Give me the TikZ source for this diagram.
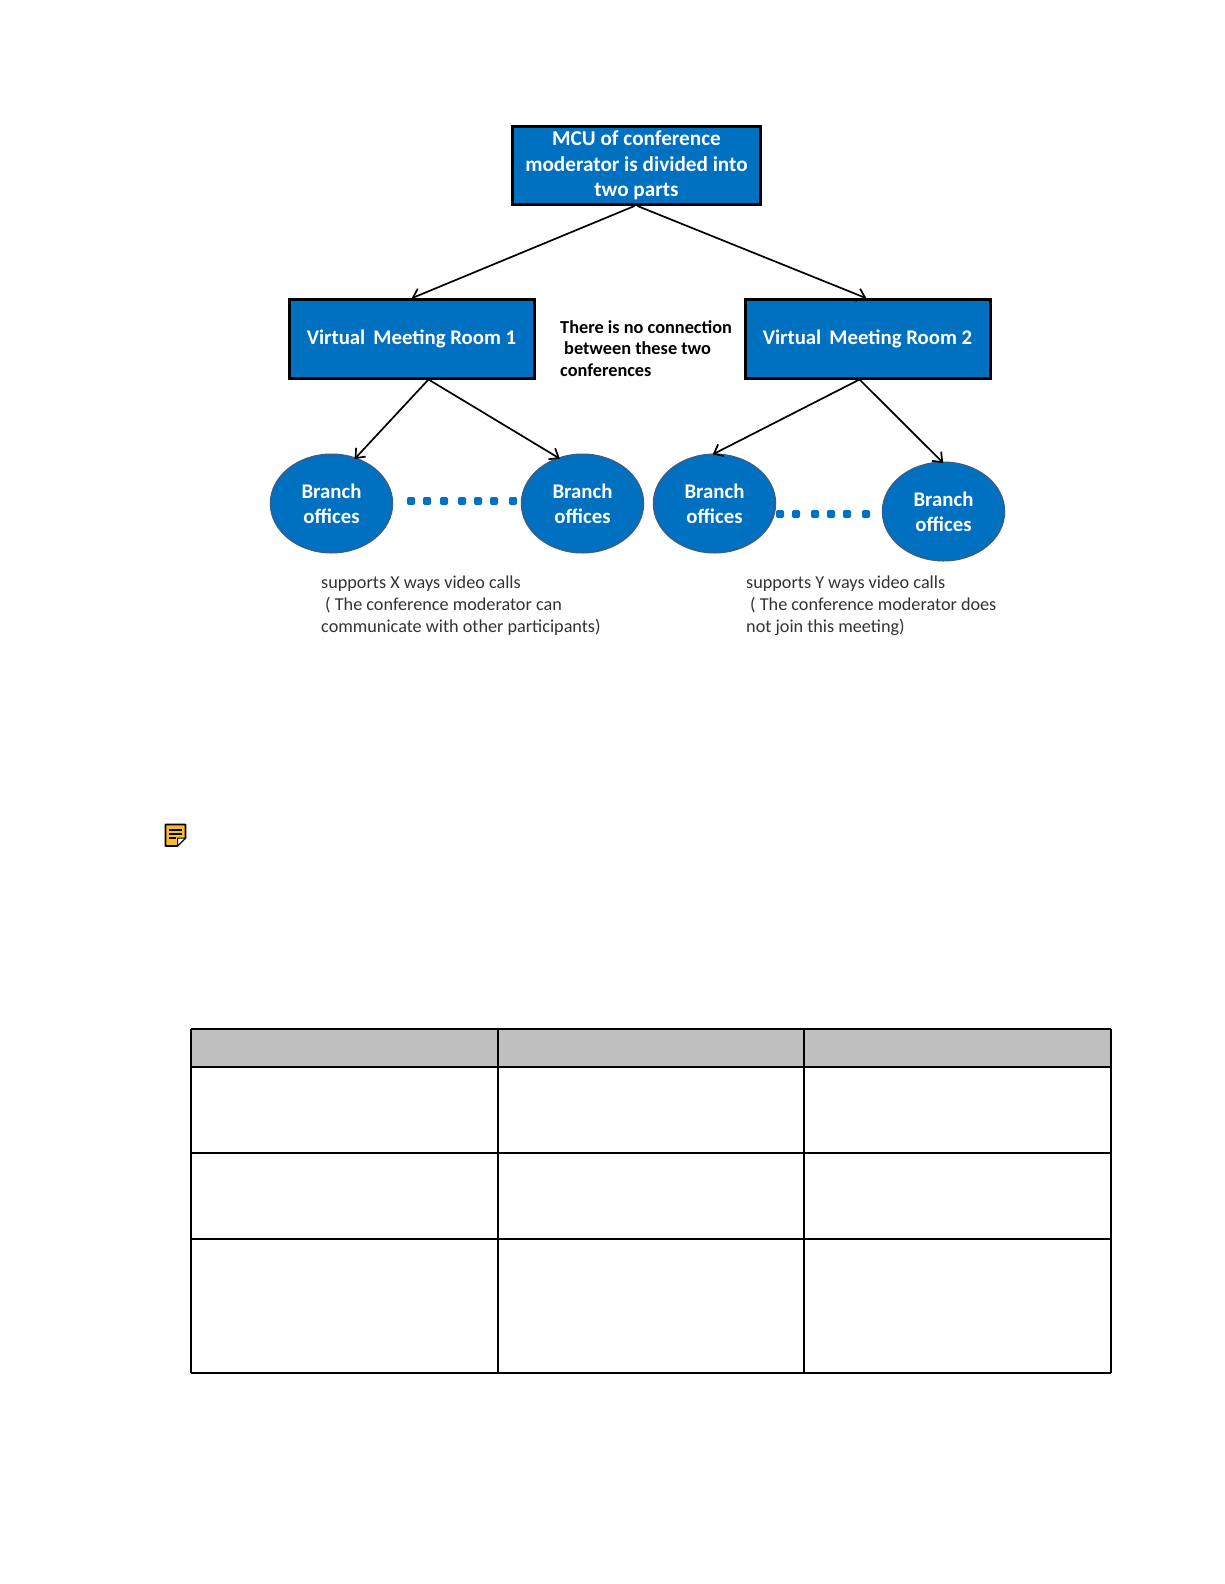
\documentclass[tikz,border=0pt]{standalone}
\usepackage{fontspec}
\setmainfont{Carlito}
\usepackage{tikz}
\usetikzlibrary{arrows.meta,positioning,shapes.geometric}
\definecolor{roomblue}{RGB}{0,112,192}
\definecolor{ovaledge}{RGB}{52,94,140}
\definecolor{notetext}{RGB}{50,50,50}
\definecolor{headgray}{RGB}{191,191,191}
\definecolor{noteyellow}{RGB}{251,188,42}
\tikzset{
  roombox/.style={draw=black, line width=3pt, fill=roomblue, text=white, align=center, minimum height=79pt, minimum width=245pt, font=\fontsize{20.8}{25.3}\selectfont\bfseries},
  branch/.style={ellipse, draw=ovaledge, line width=1.5pt, fill=roomblue, text=white, align=center, minimum height=98.5pt, minimum width=122pt, inner sep=0pt, font=\fontsize{20.8}{25}\selectfont\bfseries},
  remark/.style={anchor=north west, inner sep=0pt, align=left, text=notetext, font=\fontsize{18.2}{21.6}\selectfont},
  flow/.style={-{Straight Barb[length=8pt,width=13pt]}, line width=1.7pt, shorten >=-2pt},
  gridline/.style={line width=2pt, black}
}
\begin{document}
\begin{tikzpicture}[x=1pt, y=-1pt]
\useasboundingbox (0,0) rectangle (1224,1584);
\node[roombox, minimum width=248pt, minimum height=78pt, font=\fontsize{21.2}{25.3}\selectfont\bfseries] (mcu) at (636.5,165.5) {MCU of conference\\moderator is divided into\\two parts};
\node[roombox, below=91.5pt of mcu, xshift=-225pt] (room1) {Virtual\, Meeting Room 1};
\node[roombox, below=91.5pt of mcu, xshift=231pt] (room2) {Virtual\, Meeting Room 2};
\node[branch, below=74pt of room1, xshift=-80pt] (office1) {Branch\\offices};
\node[branch, below=74pt of room1, xshift=171pt] (office2) {Branch\\offices};
\node[branch, below=74pt of room2, xshift=-153pt] (office3) {Branch\\offices};
\node[branch, below=82pt of room2, xshift=76pt] (office4) {Branch\\offices};
\node[remark, text=black, font=\fontsize{18.3}{21.6}\selectfont\bfseries] (nolink) at (560,320) {There is no connection\\\hspace*{4pt}between these two\\conferences};
\node[remark] (xways) at (321,576) {supports X ways video calls\\\hspace*{4pt}( The conference moderator can\\communicate with other participants)};
\node[remark] (yways) at (746,576) {supports Y ways video calls\\\hspace*{4pt}( The conference moderator does\\not join this meeting)};
\draw[flow] ([xshift=-2pt]mcu.south) -- ([xshift=2pt]room1.north);
\draw[flow] ([xshift=1pt]mcu.south) -- ([xshift=-3pt]room2.north);
\draw[flow] ([xshift=17pt]room1.south) -- (office1.62);
\draw[flow] ([xshift=17pt]room1.south) -- (office2.118);
\draw[flow] ([xshift=-8pt]room2.south) -- (office3.north);
\draw[flow] ([xshift=-8pt]room2.south) -- (office4.92);
\foreach \x in {411,427,444,462,478,494,513}
  \fill[roomblue, rounded corners=2pt] (\x-4,497) rectangle (\x+4,505);
\foreach \x in {780,796,815,831,847,866}
  \fill[roomblue, rounded corners=2pt] (\x-4,510) rectangle (\x+4,518);
% note icon
\draw[line width=1.6pt, fill=noteyellow, line join=round] (165.5,824.5) -- (185.5,824.5) -- (185.5,838) -- (177.5,846) -- (165.5,846) -- cycle;
\draw[line width=1pt, fill=white] (185.5,838) -- (177.5,838) -- (177.5,846) -- cycle;
\foreach \y/\xend in {830/182,834/182,838/176}
  \draw[line width=1.2pt] (169,\y) -- (\xend,\y);
% table
\fill[headgray] (191,1029) rectangle (1111,1067);
\foreach \y in {1029,1067,1153,1239,1372.5}
  \draw[gridline] (191,\y) -- (1111,\y);
\foreach \x in {191,498,804,1111}
  \draw[gridline] (\x,1029) -- (\x,1372.5);
\end{tikzpicture}
\end{document}
